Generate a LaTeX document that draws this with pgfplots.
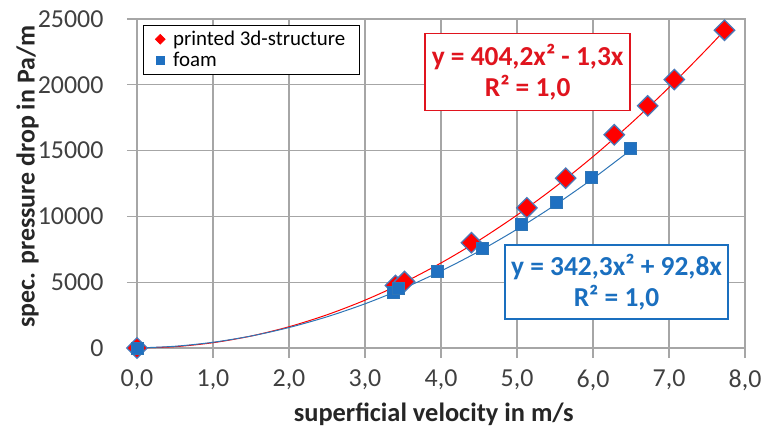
\documentclass[border=0pt]{standalone}
\usepackage{fontspec}
\setmainfont{Carlito}
\usepackage{pgfplots}
\pgfplotsset{compat=1.18}
\definecolor{exred}{HTML}{FF0000}
\definecolor{txtred}{HTML}{E0141E}
\definecolor{exblue}{HTML}{1F70C1}
\definecolor{lnblue}{HTML}{2E75B6}
\definecolor{txtblue}{HTML}{1A6FBF}
\definecolor{mkedge}{HTML}{4A78B8}
\definecolor{gridc}{HTML}{A6A6A6}
\definecolor{tickc}{HTML}{404040}
\begin{document}
\begin{tikzpicture}
\begin{axis}[
 scale only axis, width=608bp, height=329bp,
 xmin=0, xmax=8, ymin=0, ymax=25000,
 scaled y ticks=false,
 xtick={0,1,2,3,4,5,6,7,8},
 xticklabels={{0,0},{1,0},{2,0},{3,0},{4,0},{5,0},{6,0},{7,0},{8,0}},
 ytick={0,5000,10000,15000,20000,25000},
 yticklabels={0,5000,10000,15000,20000,25000},
 tick pos=left, tick align=outside, major tick length=10bp,
 grid=major, major grid style={gridc, line width=1.1bp},
 axis line style={gridc, line width=1.1bp},
 tick style={gridc, line width=1.1bp},
 xticklabel style={font=\fontsize{26}{30}\selectfont, text=tickc, yshift=-8bp},
 yticklabel style={font=\fontsize{26}{30}\selectfont, text=tickc, xshift=-20bp},
 xlabel={superficial velocity in m/s},
 ylabel={spec. pressure drop in Pa/m},
 xlabel style={font=\bfseries\fontsize{26.5}{30}\selectfont, text=black!85, at={(axis description cs:0.488,-0.2)}, anchor=center},
 ylabel style={font=\bfseries\fontsize{26}{30}\selectfont, text=black!85, at={(axis description cs:-0.18,0.521)}, anchor=center},
 legend style={at={(axis description cs:0.01,0.982)}, anchor=north west, draw=black, line width=0.8bp,
   font=\fontsize{21}{24}\selectfont, inner xsep=12bp, inner ysep=4bp, row sep=1bp,
   /tikz/every odd column/.append style={column sep=6bp}},
 legend cell align=left,
 clip=false,
]
% trendlines
\addplot[exred, line width=1bp, smooth, forget plot] coordinates {
 (0,0) (0.5,100) (1,403) (1.5,907) (2,1614) (2.5,2523) (3,3634) (3.5,4947) (4,6462)
 (4.5,8179) (5,10098) (5.5,12220) (6,14543) (6.5,17069) (7,19797) (7.5,22727) (7.73,24142)};
\addplot[lnblue, line width=1bp, smooth, forget plot] coordinates {
 (0,0) (0.5,132) (1,435) (1.5,909) (2,1555) (2.5,2371) (3,3359) (3.5,4518) (4,5848)
 (4.5,7349) (5,9022) (5.5,10865) (6,12880) (6.48,14974)};
% data
\addplot[only marks, mark=square*, mark size=7.2bp, forget plot,
  mark options={rotate=45, fill=exred, draw=mkedge, line width=1.3bp}] coordinates {
 (0,0) (3.40,4750) (3.52,5050) (4.40,8000) (5.13,10650) (5.64,12900) (6.28,16200)
 (6.72,18400) (7.07,20400) (7.73,24150)};
\addplot[only marks, mark=square*, mark size=6bp, forget plot,
  mark options={fill=exblue, draw=lnblue, line width=0.8bp}] coordinates {
 (0,0) (3.38,4230) (3.44,4550) (3.95,5800) (4.54,7600) (5.06,9430) (5.52,11100) (5.98,12950) (6.49,15150)};
\addlegendimage{only marks, mark=square*, mark size=3.4bp, mark options={rotate=45, fill=exred, draw=exred}}
\addlegendentry{printed 3d-structure}
\addlegendimage{only marks, mark=square*, mark size=4.2bp, mark options={fill=exblue, draw=exblue}}
\addlegendentry{foam}
\node[draw=txtred, line width=1.5bp, fill=white, text=txtred, font=\bfseries\fontsize{27.5}{31}\selectfont,
  align=center, minimum width=205bp, minimum height=77bp, inner sep=2bp] at (axis cs:5.14,20990)
  {y = 404,2x² - 1,3x\\R² = 1,0};
\node[draw=txtblue, line width=1.5bp, fill=white, text=txtblue, font=\bfseries\fontsize{27.5}{31}\selectfont,
  align=center, minimum width=223bp, minimum height=74bp, inner sep=2bp] at (axis cs:6.31,5030)
  {y = 342,3x² + 92,8x\\R² = 1,0};
\end{axis}
\pgfresetboundingbox
\path[use as bounding box] ([xshift=-137bp,yshift=-90bp]current axis.south west) rectangle ([xshift=16bp,yshift=19bp]current axis.north east);
\end{tikzpicture}
\end{document}
